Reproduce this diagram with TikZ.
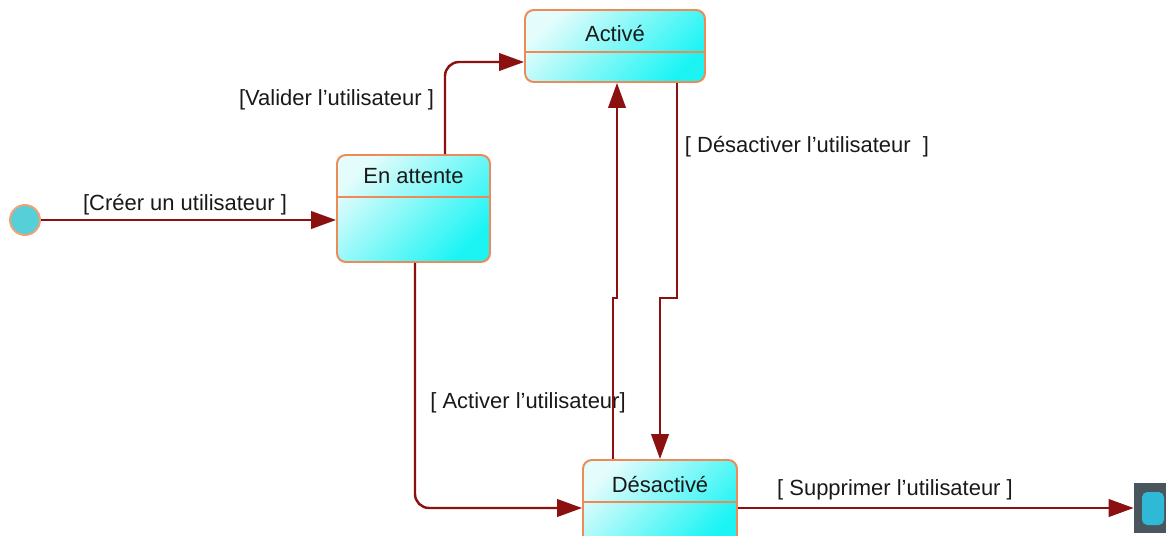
\documentclass[tikz,border=0pt]{standalone}
\usepackage{fontspec}
\setmainfont{Liberation Sans}
\usetikzlibrary{arrows.meta,positioning}
\definecolor{Edge}{HTML}{EE8A55}
\definecolor{Wire}{HTML}{8B1010}
\definecolor{Aqua}{HTML}{1CF4F4}
\definecolor{Pale}{HTML}{E4FCFC}
\definecolor{Dot}{HTML}{55D0D8}
\definecolor{Slate}{HTML}{4A565E}
\definecolor{Core}{HTML}{30B9D6}

\begin{document}
\begin{tikzpicture}[
    x=0.02cm,y=-0.02cm,
    state/.style={rounded corners=5pt,draw=Edge,line width=1.1pt,
      top color=Pale,middle color=Aqua!70!Pale,bottom color=Aqua,shading angle=45,
      path picture={\draw[Edge,line width=1.1pt]
        ([yshift=-0.84cm]path picture bounding box.north west) --
        ([yshift=-0.84cm]path picture bounding box.north east);}},
    title/.style={font=\fontsize{12.5}{15}\selectfont,text=black!90},
    guard/.style={font=\fontsize{12.5}{15}\selectfont,text=black!90,inner sep=1pt},
    trans/.style={draw=Wire,line width=1.4pt,-{Triangle[length=5mm,width=3.5mm]}}
  ]
    \useasboundingbox (0,0) rectangle (1166,535);

    \node[circle,draw=Edge!80,line width=1.1pt,fill=Dot,minimum size=0.6cm,inner sep=0pt]
      (init) at (25,220) {};
    \node[state,minimum width=3.06cm,minimum height=2.14cm] (attente) at (413.5,208.5) {};
    \node[title] (attente-t) at ([yshift=-0.45cm]attente.north) {En attente};
    \node[state,minimum width=3.6cm,minimum height=1.44cm] (active) at (615,46) {};
    \node[title] (active-t) at ([yshift=-0.48cm]active.north) {Activé};
    \node[state,minimum width=3.08cm,minimum height=1.7cm] (desact) at (660,502.5) {};
    \node[title] (desact-t) at ([yshift=-0.5cm]desact.north) {Désactivé};
    \node[rectangle,fill=Slate,minimum width=0.84cm,minimum height=1cm,inner sep=0pt,
      path picture={\fill[Core,rounded corners=3pt]
        ([shift={(0.16cm,-0.18cm)}]path picture bounding box.north west) rectangle
        ([shift={(-0.24cm,0.16cm)}]path picture bounding box.south east);}]
      (fin) at (1155,508) {};

    \node[guard] (creer) at (185,205) {[Créer un utilisateur ]};
    \node[guard] (valider) at (336.5,100) {[Valider l'utilisateur ]};
    \node[guard] (desactiver) at (807,147) {[ Désactiver l'utilisateur\ \ ]};
    \node[guard] (activer) at (528,403) {[ Activer l'utilisateur]};
    \node[guard] (supprimer) at (895,490) {[ Supprimer l'utilisateur ]};

    \coordinate (valB) at (445,62);
    \coordinate (attB) at (415,508);
    \coordinate (actA) at (613,298);
    \coordinate (actB) at (617,298);
    \coordinate (desA) at (677,298);
    \coordinate (desB) at (660,298);

    \draw[trans] (init) -- (init -| attente.west);
    \draw[trans,rounded corners=8pt] (valB |- attente.north) -- (valB) -- (valB -| active.west);
    \draw[trans,rounded corners=8pt] (attB |- attente.south) -- (attB) -- (attB -| desact.west);
    \draw[trans] (actA |- desact.north) -- (actA) -- (actB) -- (actB |- active.south);
    \draw[trans] (desA |- active.south) -- (desA) -- (desB) -- (desB |- desact.north);
    \draw[trans] (fin.west -| desact.east) -- (fin.west);
  \end{tikzpicture}
\end{document}
